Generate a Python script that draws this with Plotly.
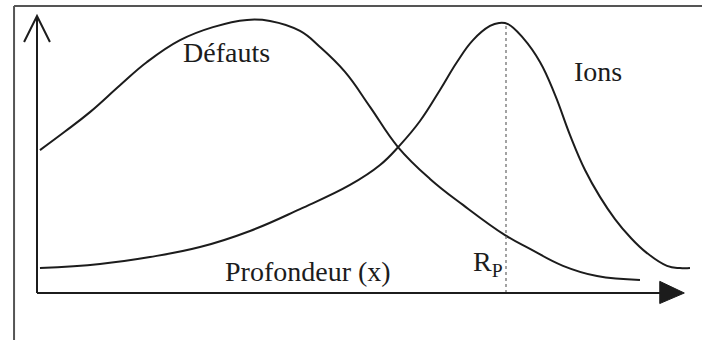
import plotly.graph_objects as go

depth_defauts = [0.46, 4.33, 8.20, 12.85, 17.03, 22.14, 27.24, 32.51, 36.07, 40.71, 43.81,
                 47.68, 51.55, 55.88, 60.84, 65.94, 72.45, 76.32, 81.42, 86.69, 93.34]
conc_defauts = [51.6, 58.3, 65.3, 75.0, 83.4, 91.3, 96.0, 98.6, 98.2, 94.6, 88.8,
                79.8, 67.2, 52.7, 41.2, 31.8, 20.9, 15.9, 9.8, 6.1, 4.7]

depth_ions = [0.46, 9.75, 17.49, 25.23, 32.97, 40.71, 48.45, 53.10, 56.19, 59.29, 62.38,
              65.02, 67.49, 70.12, 71.52, 72.91, 75.23, 77.86, 80.19, 82.51, 84.83,
              87.15, 89.47, 91.80, 94.43, 97.52, 99.54, 101.08]
conc_ions = [9.0, 10.5, 13.0, 16.6, 22.4, 30.3, 39.0, 46.2, 53.4, 62.1, 73.3,
             83.4, 91.3, 96.4, 97.5, 97.1, 92.1, 83.4, 71.5, 57.0, 44.4,
             34.7, 26.7, 20.2, 14.4, 9.8, 9.0, 9.0]

rp = 72.6
rp_peak = 97.1

ink = "#1c1c1c"
serif = "Liberation Serif, Times New Roman, serif"

fig = go.Figure()
fig.add_trace(go.Scatter(x=depth_defauts, y=conc_defauts, mode="lines",
                         line=dict(color=ink, width=2, shape="spline", smoothing=1.2)))
fig.add_trace(go.Scatter(x=depth_ions, y=conc_ions, mode="lines",
                         line=dict(color=ink, width=2, shape="spline", smoothing=1.2)))
fig.add_trace(go.Scatter(x=[rp, rp], y=[0, rp_peak], mode="lines",
                         line=dict(color="#666666", width=1.2, dash="dot")))

# axes dessinés à la main avec leurs flèches
shapes = [
    dict(type="line", x0=0, y0=0, x1=0, y1=100, line=dict(color=ink, width=2)),
    dict(type="path", path="M -2.0,90.6 L 0,100 L 2.0,90.6", line=dict(color=ink, width=2)),
    dict(type="line", x0=0, y0=0, x1=97, y1=0, line=dict(color=ink, width=2)),
    dict(type="path", path="M 96.4,4.2 L 100.2,0 L 96.4,-3.8 Z",
         fillcolor=ink, line=dict(color=ink, width=1)),
    # cadre du scan
    dict(type="line", xref="paper", yref="paper", x0=0.02, y0=0.982, x1=1.0, y1=0.982,
         line=dict(color="#555555", width=2)),
    dict(type="line", xref="paper", yref="paper", x0=0.02, y0=0.982, x1=0.02, y1=0.0,
         line=dict(color="#555555", width=2)),
]

annotations = [
    dict(x=29.3, y=87.0, text="Défauts", xanchor="center", yanchor="middle"),
    dict(x=86.8, y=79.8, text="Ions", xanchor="center", yanchor="middle"),
    dict(x=41.9, y=7.6, text="Profondeur (x)", xanchor="center", yanchor="middle"),
    dict(x=72.4, y=10.8, text="R<sub>P</sub>", xanchor="right", yanchor="middle"),
]
for a in annotations:
    a.update(showarrow=False, font=dict(family=serif, size=28, color=ink))

fig.update_layout(
    width=702, height=340,
    margin=dict(l=0, r=0, t=0, b=0),
    paper_bgcolor="white", plot_bgcolor="white",
    showlegend=False,
    shapes=shapes,
    annotations=annotations,
    xaxis=dict(range=[-5.727, 102.94], visible=False, fixedrange=True),
    yaxis=dict(range=[-16.97, 105.78], visible=False, fixedrange=True),
)

fig.write_html("out.html", config={"displayModeBar": False},
               post_script="document.body.style.margin='0';")
